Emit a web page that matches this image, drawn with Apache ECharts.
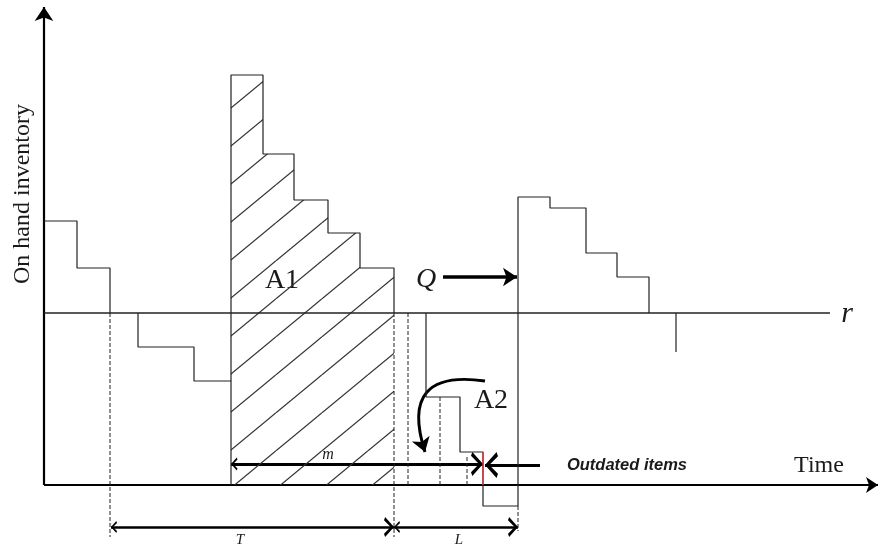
<!DOCTYPE html>
<html><head><meta charset="utf-8">
<script src="https://cdn.jsdelivr.net/npm/echarts@6/dist/echarts.min.js"></script>
<style>html,body{margin:0;padding:0;background:#fff}#c{width:879px;height:547px}</style>
</head><body><div id="c"></div>
<script>
// ---- data (time units / inventory units, origin at the axes crossing) ----
const reorderLevel = 172;
const rLine = [[0, reorderLevel], [786, reorderLevel]];
const cycle1 = [[0,264],[33,264],[33,217],[66,217],[66,172]];
const cycle2 = [[94,172],[94,138],[150,138],[150,104],[187,104],[187,410],[219,410],[219,331],[250,331],[250,285],[284,285],[284,252],[316,252],[316,217],[350,217],[350,172]];
const hatched = [[187,410],[219,410],[219,331],[250,331],[250,285],[284,285],[284,252],[316,252],[316,217],[350,217]];
const cycle3 = [[382,172],[382,88],[416,88],[416,33],[439,33],[439,-21],[474,-21],[474,288],[506,288],[506,277],[542,277],[542,232],[573,232],[573,208],[605,208],[605,172]];
const tailDrop = [[632,172],[632,133]];
const outdatedSeg = [[439,33],[439,0]];
const dashedLines = [
  [[66,172],[66,-52]], [[350,172],[350,-52]], [[364,172],[364,0]],
  [[396,88],[396,0]], [[423,28],[423,0]], [[474,-21],[474,-46]]
];
const leftEdge = [[187,104],[187,0]];
const axisX = [[0,0],[834,0]];
const axisY = [[0,0],[0,478]];
const mArrow = [[187,21],[439,21]];
const outdatedArrow = [[496,20],[441,20]];
const qArrow = [[399,208],[473,208]];
const tArrow = [[67,-42],[350,-42]];
const lArrow = [[350,-42],[474,-42]];
const curvedArrow = [[441,104],[381,33]];

// ---- hatch pattern ----
function hatchPattern(){
  const w = 46, h = 38, off = 32.8;
  const cv = document.createElement('canvas');
  cv.width = w; cv.height = h;
  const ctx = cv.getContext('2d');
  ctx.strokeStyle = '#333'; ctx.lineWidth = 1.2;
  for (let k = -2; k <= 2; k++) {
    ctx.beginPath();
    ctx.moveTo(0, off + h*k);
    ctx.lineTo(w, off + h*k - h);
    ctx.stroke();
  }
  return {image: cv, repeat: 'repeat'};
}

// open chevron whose tip sits at the symbol centre
const chev = 'path://M5,0 L5,0.01 M5,9 L10,17 L8.4,18 L5,12 L1.6,18 L0,17 Z';
const LC = '#222';
function seg(data, opt){
  return Object.assign({type:'line', data, symbol:'none', silent:true, animation:false,
    lineStyle:{color:LC, width:1.2}}, opt||{});
}
function arrow(coords, symbol, size, width, extra){
  return {type:'lines', coordinateSystem:'cartesian2d', silent:true, animation:false,
    symbol, symbolSize:size, data:[{coords}],
    lineStyle:Object.assign({color:'#000', width, opacity:1}, extra||{})};
}

const chart = echarts.init(document.getElementById('c'));
const series = [
  seg(hatched, {lineStyle:{width:0}, areaStyle:{color:hatchPattern(), opacity:1, origin:0}}),
  seg(rLine, {lineStyle:{color:LC, width:1.3}}),
  seg(cycle1), seg(cycle2), seg(cycle3), seg(tailDrop), seg(leftEdge),
  seg(outdatedSeg, {lineStyle:{color:'#ee3333', width:1.3}}),
];
dashedLines.forEach(d => series.push(seg(d, {lineStyle:{color:LC, width:1, type:[4,2]}})));
series.push(
  arrow(axisX, ['none','arrow'], [9,12], 2.2),
  arrow(axisY, ['none','arrow'], [10,14], 2.2),
  arrow(mArrow, [chev, chev], [13,24], 3),
  arrow(outdatedArrow, ['none', chev], [14,26], 3),
  arrow(qArrow, ['none','arrow'], [12,14], 3.5),
  arrow(tArrow, [chev, chev], [12,20], 2.5),
  arrow(lArrow, [chev, chev], [12,20], 2.5),
  arrow(curvedArrow, ['none','arrow'], [12,14], 3, {curveness:-0.8})
);

const serif = '"Liberation Serif", "DejaVu Serif", serif';
function txt(text, x, y, font, extra){
  return {type:'text', x, y, silent:true, style:Object.assign({text, font, fill:'#1a1a1a', textAlign:'center', textVerticalAlign:'middle'}, extra||{})};
}
chart.setOption({
  animation:false,
  grid:{left:0, right:0, top:0, bottom:0},
  xAxis:{type:'value', min:-44, max:835, show:false},
  yAxis:{type:'value', min:-62, max:485, show:false},
  series,
  graphic:[
    Object.assign(txt('On hand inventory', 23, 194, '24px ' + serif), {rotation: Math.PI/2}),
    txt('A1', 282, 281, '28px ' + serif),
    txt('A2', 491, 401, '28px ' + serif),
    txt('Q', 426, 280, 'italic 28px ' + serif),
    txt('r', 847, 314, 'italic 30px ' + serif),
    txt('Time', 819, 466, '24px ' + serif),
    txt('Outdated items', 627, 465, 'italic bold 16.5px "Liberation Sans", Arial, sans-serif'),
    txt('m', 328, 455, 'italic 16px ' + serif),
    txt('T', 240, 540, 'italic 15px ' + serif),
    txt('L', 459, 540, 'italic 15px ' + serif)
  ]
});
</script></body></html>
